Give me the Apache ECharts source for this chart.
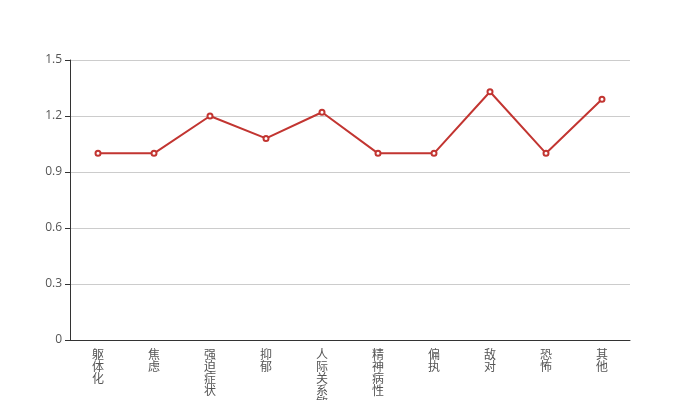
<!DOCTYPE html>
<html><head><meta charset="utf-8">
<script src="https://cdn.jsdelivr.net/npm/echarts@6/dist/echarts.min.js"></script>
<style>html,body{margin:0;padding:0;background:#fff}#c{width:700px;height:400px}</style>
</head><body><div id="c"></div>
<script>
var categories = ['躯体化','焦虑','强迫症状','抑郁','人际关系敏感','精神病性','偏执','敌对','恐怖','其他'];
var values = [1.0, 1.0, 1.2, 1.08, 1.22, 1.0, 1.0, 1.33, 1.0, 1.29];
var yTicks = [0, 0.3, 0.6, 0.9, 1.2, 1.5];

var chart = echarts.init(document.getElementById('c'), null, {renderer:'canvas'});
chart.setOption({
  animation: false,
  grid: {left: 70, right: 70, top: 60, bottom: 60, containLabel: false, outerBoundsMode: 'none'},
  xAxis: {
    type: 'category',
    data: categories,
    boundaryGap: true,
    axisLine: {lineStyle: {color: '#333'}},
    axisTick: {lineStyle: {color: '#333'}},
    axisLabel: {
      interval: 0,
      color: '#555',
      fontSize: 12,
      lineHeight: 12,
      fontFamily: 'Noto Sans CJK SC',
      formatter: function (v) { return v.split('').join('\n'); }
    }
  },
  yAxis: {
    type: 'value',
    min: yTicks[0],
    max: yTicks[yTicks.length - 1],
    interval: 0.3,
    axisLine: {show: true, lineStyle: {color: '#333'}},
    axisTick: {show: true, lineStyle: {color: '#333'}},
    axisLabel: {color: '#555', fontSize: 12, fontFamily: 'Open Sans'},
    splitLine: {lineStyle: {color: '#ccc'}}
  },
  series: [{
    type: 'line',
    data: values,
    symbol: 'emptyCircle',
    symbolSize: 5,
    lineStyle: {color: '#c23531', width: 2},
    itemStyle: {color: '#c23531', borderWidth: 1}
  }]
});
</script></body></html>
